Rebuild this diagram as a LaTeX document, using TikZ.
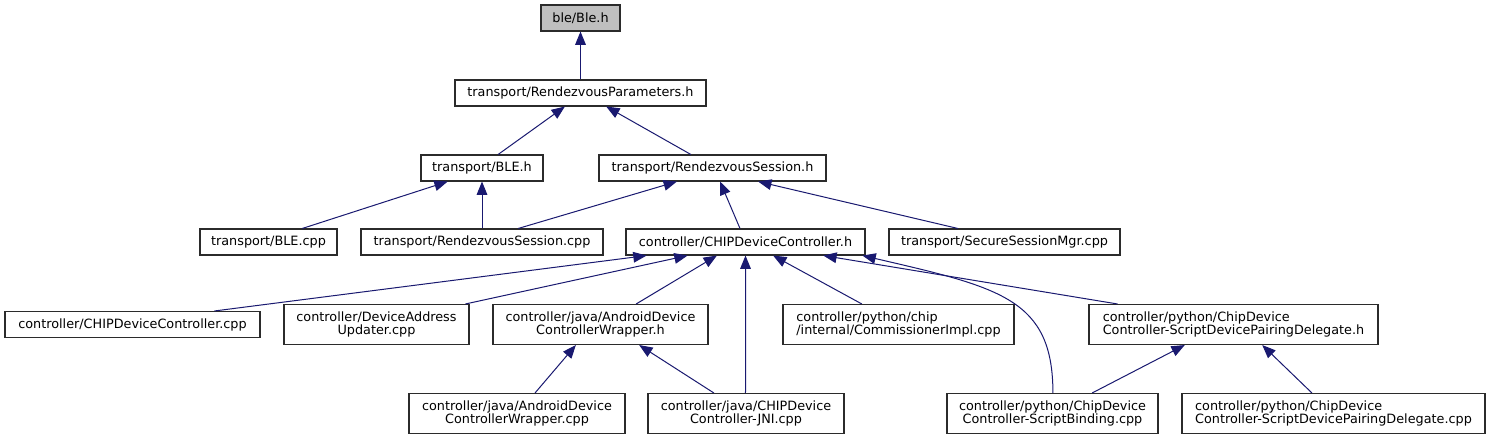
\documentclass[tikz,border=0pt]{standalone}
\usepackage{fontspec}
\setmainfont{DejaVu Sans}
\usetikzlibrary{arrows.meta,calc}
\definecolor{edgecol}{HTML}{191970}
\definecolor{bordercol}{HTML}{2B2B2B}
\definecolor{rootfill}{HTML}{BFBFBF}
\newcommand\dbox[7]{\node[box, minimum width=#4*0.75pt, minimum height=#5*0.75pt, align=#6] (#1) at (#2,#3) {#7};}
\newcommand\dedge[4]{\draw[depline] ($(#1.north west)!#2!(#1.north east)$) -- ($(#3.south west)!#4!(#3.south east)$);}
\begin{document}
\begin{tikzpicture}[x=0.75pt,y=-0.75pt,
  box/.style={draw=bordercol, line width=0.8pt, fill=white, inner sep=0pt,
    font=\fontsize{9.6pt}{10pt}\selectfont},
  depline/.style={draw=edgecol, line width=0.75pt,
    -{Triangle[length=10pt,width=8pt]}, fill=none}]
\useasboundingbox (0,0) rectangle (1491,440);
\fill[white] (0,0) rectangle (1491,440);
% nodes
\node[box, fill=rootfill, minimum width=79*0.75pt, minimum height=26*0.75pt] (ble) at (580.5,18) {ble/Ble.h};
\dbox{rp}{580.5}{93}{251}{26}{center}{transport/RendezvousParameters.h}
\dbox{bleh}{482}{168}{122}{26}{center}{transport/BLE.h}
\dbox{rsh}{712.5}{168}{227}{26}{center}{transport/RendezvousSession.h}
\dbox{blecpp}{268.5}{242}{137}{26}{center}{transport/BLE.cpp}
\dbox{rscpp}{482}{242}{242}{26}{center}{transport/RendezvousSession.cpp}
\dbox{cdch}{745.5}{242}{239}{26}{center}{controller/CHIPDeviceController.h}
\dbox{ssm}{1004.5}{242}{231}{26}{center}{transport/SecureSessionMgr.cpp}
\dbox{cdccpp}{132.5}{324.5}{255}{26}{center}{controller/CHIPDeviceController.cpp}
\dbox{dau}{376.5}{324.5}{185}{40}{center}{controller/DeviceAddress\\Updater.cpp}
\dbox{awh}{600.5}{324.5}{215}{40}{center}{controller/java/AndroidDevice\\ControllerWrapper.h}
\dbox{ci}{898.5}{324.5}{231}{40}{left}{controller/python/chip\\/internal/CommissionerImpl.cpp}
\dbox{pdh}{1233.5}{324.5}{289}{40}{left}{controller/python/ChipDevice\\Controller-ScriptDevicePairingDelegate.h}
\dbox{awcpp}{517}{413.5}{216}{40}{center}{controller/java/AndroidDevice\\ControllerWrapper.cpp}
\dbox{jni}{746}{413.5}{196}{40}{center}{controller/java/CHIPDevice\\Controller-JNI.cpp}
\dbox{sb}{1052.5}{413.5}{211}{40}{center}{controller/python/ChipDevice\\Controller-ScriptBinding.cpp}
\dbox{pdcpp}{1333.5}{413.5}{303}{40}{left}{controller/python/ChipDevice\\Controller-ScriptDevicePairingDelegate.cpp}
% edges
\dedge{rp}{0.5}{ble}{0.5}
\dedge{bleh}{0.631}{rp}{0.438}
\dedge{rsh}{0.405}{rp}{0.602}
\dedge{blecpp}{0.745}{bleh}{0.221}
\dedge{rscpp}{0.5}{bleh}{0.5}
\dedge{rscpp}{0.649}{rsh}{0.344}
\dedge{cdch}{0.477}{rsh}{0.533}
\dedge{ssm}{0.299}{rsh}{0.700}
\dedge{cdccpp}{0.82}{cdch}{0.088}
\dedge{dau}{0.978}{cdch}{0.259}
\dedge{awh}{0.665}{cdch}{0.381}
\dedge{jni}{0.4974}{cdch}{0.5}
\dedge{ci}{0.342}{cdch}{0.615}
\dedge{pdh}{0.100}{cdch}{0.824}
\draw[depline] ($(sb.north west)!0.502!(sb.north east)$) .. controls +(0,-94) and +(138,32) .. ($(cdch.south west)!0.987!(cdch.south east)$);
\dedge{awcpp}{0.583}{awh}{0.386}
\dedge{jni}{0.337}{awh}{0.679}
\dedge{sb}{0.687}{pdh}{0.332}
\dedge{pdcpp}{0.429}{pdh}{0.599}
\end{tikzpicture}
\end{document}
